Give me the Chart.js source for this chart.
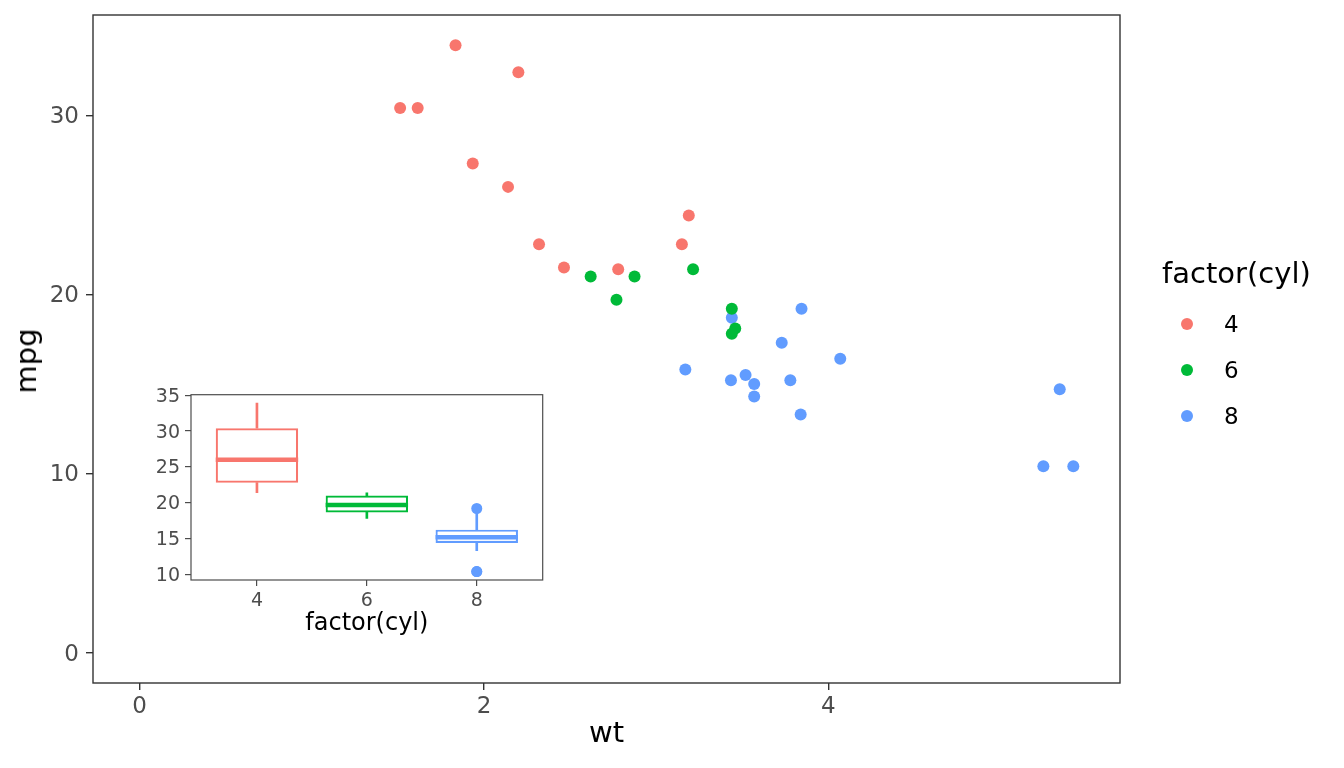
<!DOCTYPE html>
<html>
<head>
<meta charset="utf-8">
<title>mpg vs wt</title>
<script src="https://cdn.jsdelivr.net/npm/chart.js@4.4.1/dist/chart.umd.min.js"></script>
<style>
  html, body { margin: 0; padding: 0; background: #fff; }
  body { width: 1344px; height: 768px; position: relative; overflow: hidden; font-family: "DejaVu Sans", sans-serif; }
  #main { position: absolute; left: 0; top: 0; }
  #inset { position: absolute; left: 140px; top: 385px; }
  .ytitle { position: absolute; left: 26px; top: 361px; transform: translate(-50%, -50%) rotate(-90deg); font-size: 29px; white-space: nowrap; color: #000; }
  .legend-title { position: absolute; left: 1162px; top: 273px; transform: translateY(-50%); font-size: 29px; white-space: nowrap; color: #000; }
  .key { position: absolute; width: 12px; height: 12px; border-radius: 50%; transform: translate(-50%, -50%); }
  .key-label { position: absolute; font-size: 23px; transform: translateY(-50%); color: #000; }
</style>
</head>
<body>
<canvas id="main" width="1344" height="768"></canvas>
<canvas id="inset" width="420" height="265"></canvas>
<div class="ytitle">mpg</div>
<div class="legend-title">factor(cyl)</div>
<div id="legend"></div>
<script>
// mtcars, split by cylinder count
const cylLevels = ["4", "6", "8"];
const cylColors = ["#F8766D", "#00BA38", "#619CFF"];

const wt4 = [2.320, 3.190, 3.150, 2.200, 1.615, 1.835, 2.465, 1.935, 2.140, 1.513, 2.780];
const mpg4 = [22.8, 24.4, 22.8, 32.4, 30.4, 33.9, 21.5, 27.3, 26.0, 30.4, 21.4];
const wt6 = [2.620, 2.875, 3.215, 3.460, 3.440, 3.440, 2.770];
const mpg6 = [21.0, 21.0, 21.4, 18.1, 19.2, 17.8, 19.7];
const wt8 = [3.440, 3.570, 4.070, 3.730, 3.780, 5.250, 5.424, 5.345, 3.520, 3.435, 3.840, 3.845, 3.170, 3.570];
const mpg8 = [18.7, 14.3, 16.4, 17.3, 15.2, 10.4, 10.4, 14.7, 15.5, 15.2, 13.3, 19.2, 15.8, 15.0];

const wtTicks = [0, 2, 4];
const mpgTicks = [0, 10, 20, 30];

// inset boxplot stats (mpg by cyl)
const boxLow = [21.4, 17.8, 13.3];
const boxQ1 = [22.8, 18.65, 14.4];
const boxMedian = [26.0, 19.7, 15.2];
const boxQ3 = [30.4, 21.0, 16.25];
const boxHigh = [33.9, 21.4, 18.7];
const outlierGroup = [3, 3, 3];
const outlierMpg = [10.4, 10.4, 19.2];
const insetMpgTicks = [10, 15, 20, 25, 30, 35];

const FONT = "DejaVu Sans";

const panelBorder = {
  id: "panelBorder",
  afterDraw(chart, args, opts) {
    const { ctx, chartArea: a } = chart;
    ctx.save();
    ctx.strokeStyle = opts.color;
    ctx.lineWidth = opts.width;
    ctx.strokeRect(a.left, a.top, a.right - a.left, a.bottom - a.top);
    ctx.restore();
  },
};

const medianLines = {
  id: "medianLines",
  afterDatasetsDraw(chart) {
    const { ctx, scales: { x, y } } = chart;
    const boxes = chart.getDatasetMeta(2).data;
    ctx.save();
    ctx.lineWidth = 4.5;
    boxMedian.forEach((m, i) => {
      const half = boxes[i].width / 2;
      const px = x.getPixelForValue(i + 1);
      const py = y.getPixelForValue(m);
      ctx.strokeStyle = cylColors[i];
      ctx.beginPath();
      ctx.moveTo(px - half, py);
      ctx.lineTo(px + half, py);
      ctx.stroke();
    });
    ctx.restore();
  },
};

function pts(xs, ys) {
  return xs.map((v, i) => ({ x: v, y: ys[i] }));
}

// pin an axis to a fixed size and drop the label overhang padding
function fixWidth(w) {
  return (s) => { s.width = w; s.paddingTop = 0; s.paddingBottom = 0; };
}
function fixHeight(h) {
  return (s) => { s.height = h; s.paddingLeft = 0; s.paddingRight = 0; };
}

new Chart(document.getElementById("main"), {
  type: "scatter",
  data: {
    datasets: [
      { label: "4", data: pts(wt4, mpg4), backgroundColor: cylColors[0] },
      { label: "6", data: pts(wt6, mpg6), backgroundColor: cylColors[1] },
      { label: "8", data: pts(wt8, mpg8), backgroundColor: cylColors[2] },
    ],
  },
  options: {
    responsive: false,
    animation: false,
    events: [],
    layout: { autoPadding: false, padding: { top: 15, right: 224, left: 0, bottom: 0 } },
    elements: { point: { radius: 6, borderWidth: 0 } },
    plugins: { legend: { display: false }, tooltip: { enabled: false }, panelBorder: { color: "#333333", width: 1.4 } },
    scales: {
      x: {
        type: "linear",
        min: -0.2712,
        max: 5.6952,
        afterBuildTicks: (s) => { s.ticks = wtTicks.map((v) => ({ value: v })); },
        afterFit: fixHeight(85),
        grid: { drawOnChartArea: false, tickLength: 7, color: "#333333", lineWidth: 1.4 },
        border: { display: false },
        ticks: { color: "#4D4D4D", font: { family: FONT, size: 23 }, padding: 3, maxRotation: 0 },
        title: { display: true, text: "wt", color: "#000", font: { family: FONT, size: 29 }, padding: { top: 0, bottom: 16 } },
      },
      y: {
        type: "linear",
        min: -1.695,
        max: 35.595,
        afterBuildTicks: (s) => { s.ticks = mpgTicks.map((v) => ({ value: v })); },
        afterFit: fixWidth(93),
        grid: { drawOnChartArea: false, tickLength: 7, color: "#333333", lineWidth: 1.4 },
        border: { display: false },
        ticks: { color: "#4D4D4D", font: { family: FONT, size: 23 }, padding: 7, labelOffset: 2 },
      },
    },
  },
  plugins: [panelBorder],
});

new Chart(document.getElementById("inset"), {
  type: "bar",
  data: {
    datasets: [
      {
        data: boxLow.map((v, i) => ({ x: i + 1, y: [v, boxQ1[i]] })),
        backgroundColor: cylColors, barThickness: 2, grouped: false,
      },
      {
        data: boxHigh.map((v, i) => ({ x: i + 1, y: [boxQ3[i], v] })),
        backgroundColor: cylColors, barThickness: 2, grouped: false,
      },
      {
        data: boxQ1.map((v, i) => ({ x: i + 1, y: [v, boxQ3[i]] })),
        backgroundColor: "#ffffff", borderColor: cylColors, borderWidth: 2.2, borderSkipped: false,
        barPercentage: 0.75, categoryPercentage: 1, grouped: false,
      },
      {
        type: "scatter",
        data: outlierGroup.map((g, i) => ({ x: g, y: outlierMpg[i] })),
        backgroundColor: outlierGroup.map((g) => cylColors[g - 1]),
        pointRadius: 5.5, borderWidth: 0,
      },
    ],
  },
  options: {
    responsive: false,
    animation: false,
    events: [],
    layout: { autoPadding: false, padding: { top: 9.7, right: 17.3, left: 0, bottom: 0 } },
    plugins: { legend: { display: false }, tooltip: { enabled: false }, panelBorder: { color: "#4D4D4D", width: 1.2 } },
    scales: {
      x: {
        type: "linear",
        offset: false,
        min: 0.4,
        max: 3.6,
        afterBuildTicks: (s) => { s.ticks = cylLevels.map((c, i) => ({ value: i + 1 })); },
        afterFit: fixHeight(70),
        grid: { drawOnChartArea: false, tickLength: 6, color: "#4D4D4D", lineWidth: 1.2, offset: false },
        border: { display: false },
        ticks: { color: "#4D4D4D", font: { family: FONT, size: 19 }, padding: 4, maxRotation: 0, callback: (v) => cylLevels[v - 1] },
        title: { display: true, text: "factor(cyl)", color: "#000", font: { family: FONT, size: 24 }, padding: { top: 0, bottom: 12 } },
      },
      y: {
        type: "linear",
        min: 9.225,
        max: 35.075,
        afterBuildTicks: (s) => { s.ticks = insetMpgTicks.map((v) => ({ value: v })); },
        afterFit: fixWidth(51),
        grid: { drawOnChartArea: false, tickLength: 6, color: "#4D4D4D", lineWidth: 1.2 },
        border: { display: false },
        ticks: { color: "#4D4D4D", font: { family: FONT, size: 19 }, padding: 5, labelOffset: 1.5 },
      },
    },
  },
  plugins: [panelBorder, medianLines],
});

// legend (keys built from the level arrays)
const legend = document.getElementById("legend");
const keyY = [324, 370, 416];
cylLevels.forEach((lvl, i) => {
  const dot = document.createElement("div");
  dot.className = "key";
  dot.style.left = "1187px";
  dot.style.top = keyY[i] + "px";
  dot.style.background = cylColors[i];
  legend.appendChild(dot);
  const lab = document.createElement("div");
  lab.className = "key-label";
  lab.style.left = "1224px";
  lab.style.top = keyY[i] + "px";
  lab.textContent = lvl;
  legend.appendChild(lab);
});
</script>
</body>
</html>
